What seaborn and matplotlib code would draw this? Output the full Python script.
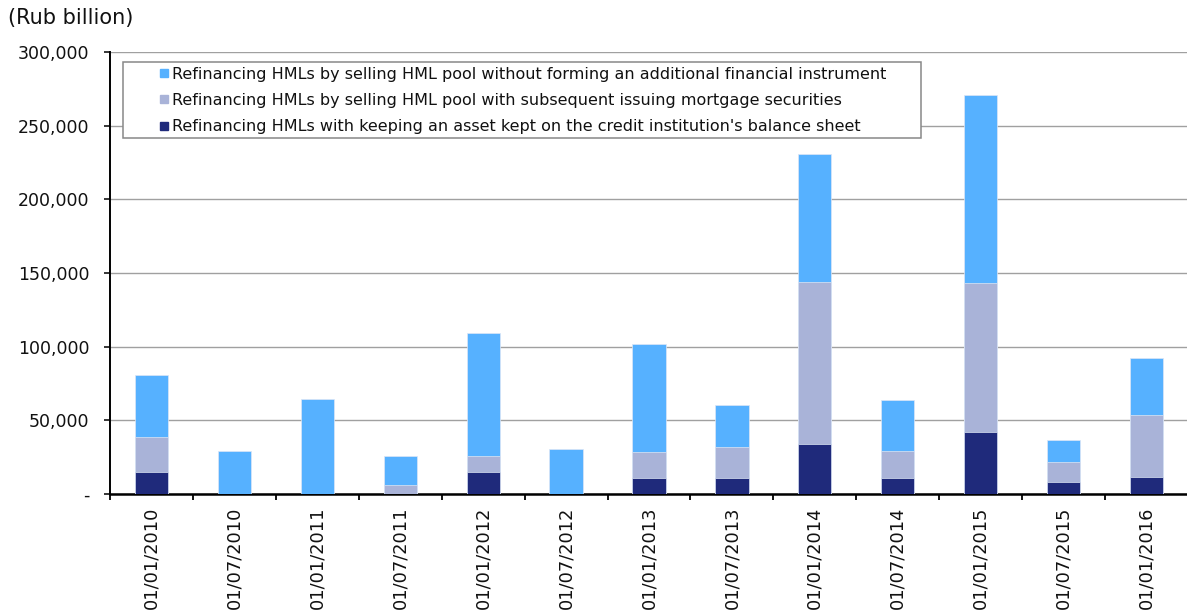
import numpy as np
import pandas as pd
import matplotlib
matplotlib.use("Agg")
import matplotlib.pyplot as plt
from matplotlib.patches import Rectangle
from matplotlib.lines import Line2D
from matplotlib.ticker import FuncFormatter, FixedLocator
import seaborn as sns

dates = ["01/01/2010", "01/07/2010", "01/01/2011", "01/07/2011", "01/01/2012",
         "01/07/2012", "01/01/2013", "01/07/2013", "01/01/2014", "01/07/2014",
         "01/01/2015", "01/07/2015", "01/01/2016"]
kept_on_balance = [15000, 0, 0, 0, 15000, 0, 11000, 11000, 34000, 11000, 42000, 8000, 11700]
with_securities = [24000, 0, 0, 6000, 11000, 0, 17500, 21000, 110000, 18200, 101000, 13800, 42000]
without_instrument = [41500, 29200, 64500, 20000, 83300, 30300, 73300, 28500, 87000, 34600, 127700, 15000, 38600]

labels = [
    "Refinancing HMLs by selling HML pool without forming an additional financial instrument",
    "Refinancing HMLs by selling HML pool with subsequent issuing mortgage securities",
    "Refinancing HMLs with keeping an asset kept on the credit institution's balance sheet",
]
colors = ["#56B1FF", "#A9B3D8", "#1F2A7B"]

df = pd.DataFrame({
    "date": dates,
    "dark": kept_on_balance,
    "mid": with_securities,
    "light": without_instrument,
})
df["cum_dark"] = df["dark"]
df["cum_mid"] = df["dark"] + df["mid"]
df["cum_total"] = df["cum_mid"] + df["light"]

sns.set_theme(style="white")
plt.rcParams["font.family"] = ["DejaVu Sans"]

fig = plt.figure(figsize=(11.87, 6.10), dpi=100)
ax = fig.add_axes([110 / 1187, 1 - 494 / 610, 1078 / 1187, 442 / 610])

for col, c in zip(["cum_total", "cum_mid", "cum_dark"], colors):
    sns.barplot(data=df, x="date", y=col, order=dates, color=c, width=0.4,
                saturation=1, ax=ax, zorder=3, edgecolor="#DDE6F5", linewidth=0.5)

ax.set_xlim(-0.5, len(dates) - 0.5)
ax.set_ylim(0, 300000)
ax.set_yticks(np.arange(0, 300001, 50000))
ax.yaxis.set_major_formatter(FuncFormatter(lambda v, p: "-" if v == 0 else f"{int(v):,}"))
ax.grid(axis="y", color="#A0A0A0", linewidth=1.0, zorder=0)
ax.grid(axis="x", visible=False)
ax.set_axisbelow(True)

ax.set_xlabel("")
ax.set_ylabel("")
ax.set_xticks(range(len(dates)))
ax.set_xticklabels(dates, rotation=90, fontsize=12.8, color="#111111")
ax.xaxis.set_minor_locator(FixedLocator(np.arange(-0.5, len(dates), 1)))
ax.tick_params(axis="x", which="major", length=0, pad=9)
ax.tick_params(axis="x", which="minor", length=4, width=1.3, color="black", direction="out", bottom=True)
ax.tick_params(axis="y", length=4, width=1.1, color="black", direction="out", labelsize=12.5,
               labelcolor="#111111", left=True, pad=11)

for s in ["top", "right"]:
    ax.spines[s].set_visible(False)
for s in ["left", "bottom"]:
    ax.spines[s].set_color("black")
ax.spines["left"].set_linewidth(1.4)
ax.spines["bottom"].set_linewidth(1.8)

# Legend
handles = [Line2D([0], [0], marker="s", linestyle="", markersize=6, markerfacecolor=c,
                  markeredgecolor=c) for c in colors]
x0 = (123 - 110) / 1078
x1 = (921 - 110) / 1078
y_top = (494 - 62) / 442
y_bot = (494 - 138) / 442
ax.add_patch(Rectangle((x0, y_bot), x1 - x0, y_top - y_bot, transform=ax.transAxes,
                       facecolor="white", edgecolor="#888888", linewidth=1.1, zorder=5))
leg = ax.legend(handles, labels, loc="upper left",
                bbox_to_anchor=((155 - 110) / 1078, (494 - 62) / 442),
                frameon=False, fontsize=11.5, handlelength=0.55, handletextpad=0.22,
                labelspacing=0.7, borderpad=0.3, borderaxespad=0)
leg.set_zorder(6)
for t in leg.get_texts():
    t.set_color("#111111")

fig.text(8 / 1187, 1 - 18 / 610, "(Rub billion)", fontsize=15, va="center", ha="left", color="#111111")

fig.savefig("out.png", dpi=100)
